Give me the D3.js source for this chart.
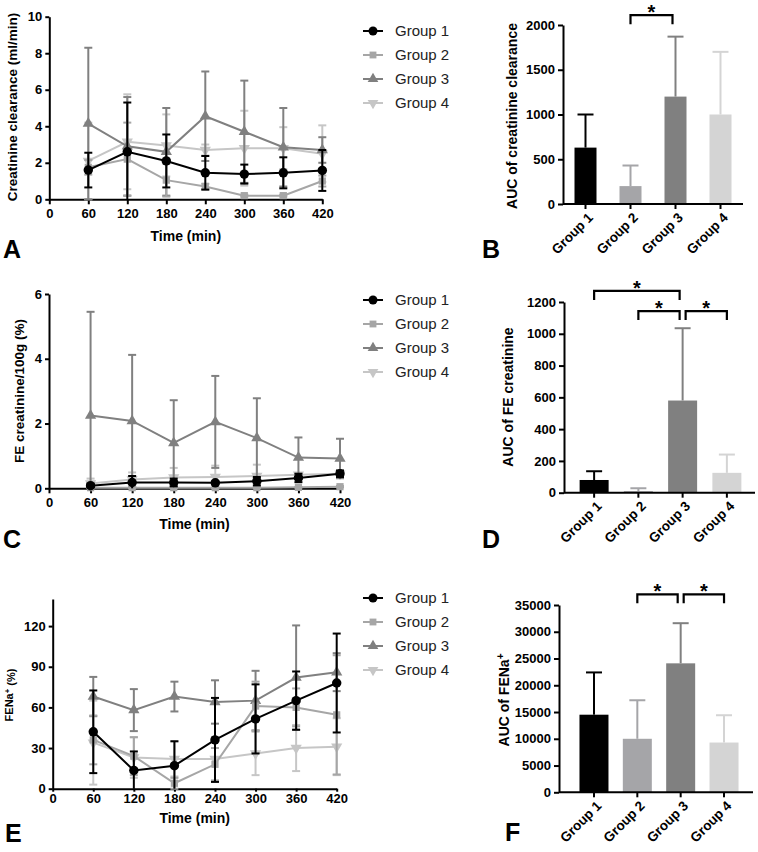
<!DOCTYPE html>
<html><head><meta charset="utf-8">
<script src="https://cdn.jsdelivr.net/npm/d3@7"></script>
<style>body{margin:0;background:#fff}text{font-family:"Liberation Sans",Arial,sans-serif}</style>
</head><body><svg id="c" width="758" height="852"></svg>
<script>
// ---------- DATA ----------
const times = [60,120,180,240,300,360,420];
const timeTicks = [0,60,120,180,240,300,360,420];
const groups = ["Group 1","Group 2","Group 3","Group 4"];

// Panel A: creatinine clearance (ml/min), mean and SD
const ccG1 = [1.6,2.6,2.1,1.45,1.38,1.45,1.58];
const ccG1sd = [0.95,2.7,1.45,0.92,0.52,0.85,1.12];
const ccG2 = [1.75,2.2,1.05,0.7,0.2,0.2,1.0];
const ccG2sd = [0.4,2.0,0.9,0.15,0.05,0.05,0.3];
const ccG3 = [4.15,2.9,2.6,4.55,3.7,2.85,2.7];
const ccG3sd = [4.15,2.7,2.4,2.45,2.8,2.15,0.7];
const ccG4 = [2.1,3.15,2.95,2.7,2.8,2.8,2.5];
const ccG4sd = [2.1,2.6,1.7,0.3,2.05,1.15,1.55];
const ccTicks = [0,2,4,6,8,10];

// Panel B: AUC of creatinine clearance
const aucCC = [630,200,1200,1000];
const aucCCsd = [370,230,670,700];
const aucCCTicks = [0,500,1000,1500,2000];
const sigB = [[1,2,2110]];

// Panel C: FE creatinine/100g (%)
const feG1 = [0.08,0.18,0.18,0.17,0.22,0.32,0.45];
const feG1sd = [0.05,0.2,0.12,0.05,0.13,0.13,0.1];
const feG2 = [0.02,0.02,0.02,0.02,0.02,0.03,0.05];
const feG2sd = [0.01,0.01,0.01,0.01,0.01,0.01,0.02];
const feG3 = [2.25,2.08,1.4,2.05,1.55,0.95,0.92];
const feG3sd = [3.2,2.04,1.32,1.42,1.23,0.62,0.61];
const feG4 = [0.15,0.27,0.33,0.35,0.38,0.42,0.45];
const feG4sd = [0.15,0.22,0.3,0.35,0.35,0.05,0.1];
const feTicks = [0,2,4,6];

// Panel D: AUC of FE creatinine
const aucFE = [80,10,580,125];
const aucFEsd = [55,18,455,115];
const aucFETicks = [0,200,400,600,800,1000,1200];
const sigD = [[0,2,1270],[1,2,1143],[2,3,1143]];

// Panel E: FENa+ (%)
const naG1 = [42,13.5,17,36,51.5,65,78];
const naG1sd = [30.5,14,18,31,25.5,21.5,36.5];
const naG2 = [36,24,4,18,61,60,54.5];
const naG2sd = [18,14,4,12,18,14,44];
const naG3 = [68,58,68,64,65,82,86];
const naG3sd = [14.5,15.5,11,16,22,38.5,14];
const naG4 = [34,23,22,22,26,30,31];
const naG4sd = [31,15,13,16,16,17,21];
const naTicks = [0,30,60,90,120];

// Panel F: AUC of FENa+
const aucNa = [14500,10000,24100,9300];
const aucNasd = [7900,7200,7500,5100];
const aucNaTicks = [0,5000,10000,15000,20000,25000,30000,35000];
const sigF = [[1,2,37000],[2,3,37000]];

// ---------- STYLE ----------
const lineColors = ["#000000","#a6a6a6","#808080","#c6c6c6"];
const barColors = ["#000000","#a5a5a8","#808080","#d4d4d4"];
const symbols = [d3.symbolCircle,d3.symbolSquare,d3.symbolTriangle,d3.symbolTriangle];
const symRot = [0,0,0,180];
const symSize = [70,52,55,55];
const fmt = d3.format("d");

const svg = d3.select("#c");
svg.append("rect").attr("width",758).attr("height",852).attr("fill","#fff");

function styleAxis(g, fs){
  g.selectAll("path.domain").attr("stroke","#000").attr("stroke-width",2);
  g.selectAll(".tick line").attr("stroke","#000").attr("stroke-width",2);
  g.selectAll(".tick text").attr("font-family","Liberation Sans, Arial, sans-serif")
    .attr("font-weight","bold").attr("font-size",fs).attr("fill","#000");
}

function linePanel(cfg){
  const x = d3.scaleLinear().domain([0,420]).range([cfg.x0,cfg.x1]);
  const y = d3.scaleLinear().domain(cfg.ydom).range([cfg.yb,cfg.yt]);
  const g = svg.append("g");
  const ya = g.append("g").attr("transform",`translate(${cfg.x0},0)`)
    .call(d3.axisLeft(y).tickValues(cfg.yticks).tickFormat(fmt).tickSize(4).tickPadding(3).tickSizeOuter(0));
  styleAxis(ya,13);
  const xa = g.append("g").attr("transform",`translate(0,${cfg.yb})`)
    .call(d3.axisBottom(x).tickValues(timeTicks).tickFormat(fmt).tickSize(cfg.xtick).tickPadding(cfg.xpad).tickSizeOuter(0));
  styleAxis(xa,13);
  g.append("text").attr("x",(cfg.x0+cfg.x1)/2).attr("y",cfg.yb+cfg.titleOff)
    .attr("text-anchor","middle").attr("font-weight","bold").attr("font-size",14).text("Time (min)");
  const yt = g.append("text").attr("transform",`translate(${cfg.ytx},${cfg.yty}) rotate(-90)`)
    .attr("text-anchor","middle").attr("font-weight","bold").attr("font-size",cfg.ytfs);
  if(cfg.ytitle2){
    yt.append("tspan").text(cfg.ytitle);
    yt.append("tspan").attr("dy","-0.45em").attr("font-size",cfg.ytfs*0.7).text("+");
    yt.append("tspan").attr("dy","0.45em").text(cfg.ytitle2);
  } else yt.text(cfg.ytitle);
  const [ylo,yhi] = cfg.ydom;
  for(let s=3;s>=0;s--){
    const m = cfg.means[s], sd = cfg.sds[s], col = lineColors[s];
    const sg = g.append("g");
    times.forEach((t,i)=>{
      const lo = m[i]-sd[i], hi = m[i]+sd[i];
      const px = x(t);
      sg.append("line").attr("x1",px).attr("x2",px)
        .attr("y1",y(Math.max(lo,ylo))).attr("y2",y(Math.min(hi,yhi)))
        .attr("stroke",col).attr("stroke-width",2);
      [lo,hi].forEach(v=>{
        if(v>=ylo && v<=yhi) sg.append("line").attr("x1",px-4).attr("x2",px+4)
          .attr("y1",y(v)).attr("y2",y(v)).attr("stroke",col).attr("stroke-width",2);
      });
    });
    sg.append("path").datum(m).attr("fill","none").attr("stroke",col).attr("stroke-width",2)
      .attr("d",d3.line().x((d,i)=>x(times[i])).y(d=>y(d)));
    sg.selectAll("path.sym").data(m).join("path").attr("class","sym")
      .attr("transform",(d,i)=>`translate(${x(times[i])},${y(d)}) rotate(${symRot[s]})`)
      .attr("d",d3.symbol(symbols[s],symSize[s])).attr("fill",col);
  }
  cfg.legY.forEach((ly,i)=>{
    const lg = svg.append("g");
    lg.append("line").attr("x1",363).attr("x2",383).attr("y1",ly).attr("y2",ly)
      .attr("stroke",lineColors[i]).attr("stroke-width",2);
    lg.append("path").attr("transform",`translate(373,${ly}) rotate(${symRot[i]})`)
      .attr("d",d3.symbol(symbols[i],symSize[i]*0.9)).attr("fill",lineColors[i]);
    lg.append("text").attr("x",395).attr("y",ly+5).attr("font-size",15).attr("fill","#222").text(groups[i]);
  });
  svg.append("text").attr("x",cfg.lx).attr("y",cfg.ly).attr("font-size",25).attr("font-weight","bold").text(cfg.letter);
}

function barPanel(cfg){
  const x = d3.scaleBand().domain(groups).range(cfg.brange).paddingInner(0).paddingOuter(0);
  const y = d3.scaleLinear().domain(cfg.ydom).range([cfg.yb,cfg.yt]);
  const g = svg.append("g");
  const bw = cfg.bw;
  const cx = i => x(groups[i]) + x.bandwidth()/2;
  cfg.vals.forEach((v,i)=>{
    const top = v + cfg.sds[i];
    g.append("line").attr("x1",cx(i)).attr("x2",cx(i)).attr("y1",y(v)).attr("y2",y(top))
      .attr("stroke",barColors[i]).attr("stroke-width",2);
    g.append("line").attr("x1",cx(i)-8).attr("x2",cx(i)+8).attr("y1",y(top)).attr("y2",y(top))
      .attr("stroke",barColors[i]).attr("stroke-width",2);
    g.append("rect").attr("x",cx(i)-bw/2).attr("width",bw).attr("y",y(v)).attr("height",y(0)-y(v))
      .attr("fill",barColors[i]);
  });
  const ya = g.append("g").attr("transform",`translate(${cfg.ax0},0)`)
    .call(d3.axisLeft(y).tickValues(cfg.yticks).tickFormat(fmt).tickSize(5).tickPadding(3).tickSizeOuter(0));
  styleAxis(ya,13);
  g.append("line").attr("x1",cfg.ax0).attr("x2",cfg.ax1).attr("y1",cfg.yb).attr("y2",cfg.yb)
    .attr("stroke","#000").attr("stroke-width",2);
  groups.forEach((gr,i)=>{
    g.append("line").attr("x1",cx(i)).attr("x2",cx(i)).attr("y1",cfg.yb).attr("y2",cfg.yb+5)
      .attr("stroke","#000").attr("stroke-width",2);
    g.append("text").attr("transform",`translate(${cx(i)+5},${cfg.yb+11}) rotate(-45)`)
      .attr("text-anchor","end").attr("dy","0.35em").attr("font-weight","bold").attr("font-size",13.5).text(gr);
  });
  const yt = g.append("text").attr("transform",`translate(${cfg.ytx},${cfg.yty}) rotate(-90)`)
    .attr("text-anchor","middle").attr("font-weight","bold").attr("font-size",14);
  if(cfg.sup){
    yt.append("tspan").text(cfg.ytitle);
    yt.append("tspan").attr("dy","-0.5em").attr("font-size",10).text("+");
  } else yt.text(cfg.ytitle);
  cfg.sig.forEach(([a,b,lev])=>{
    const xa = cx(a) + (a===2?3:0), xb = cx(b) - (b===2?3:0);
    const yy = y(lev);
    g.append("path").attr("d",`M${xa},${yy+9}V${yy}H${xb}V${yy+9}`)
      .attr("fill","none").attr("stroke","#000").attr("stroke-width",2.2);
    g.append("text").attr("x",(xa+xb)/2).attr("y",yy+4).attr("text-anchor","middle")
      .attr("font-weight","bold").attr("font-size",20).text("*");
  });
  svg.append("text").attr("x",cfg.lx).attr("y",cfg.ly).attr("font-size",25).attr("font-weight","bold").text(cfg.letter);
}

linePanel({x0:49.3,x1:322.3,yb:199.3,yt:16.7,ydom:[0,10],yticks:ccTicks,xtick:5,xpad:4,titleOff:42,
  ytx:17,yty:107,ytitle:"Creatinine clearance (ml/min)",ytfs:13.5,
  means:[ccG1,ccG2,ccG3,ccG4],sds:[ccG1sd,ccG2sd,ccG3sd,ccG4sd],
  legY:[31,55,79,103],letter:"A",lx:3,ly:258});
barPanel({brange:[563,743],ax0:563,ax1:743,yb:204,yt:25,ydom:[0,2000],yticks:aucCCTicks,bw:22,
  vals:aucCC,sds:aucCCsd,ytx:517,yty:116,ytitle:"AUC of creatinine clearance",sig:sigB,letter:"B",lx:482,ly:258});

linePanel({x0:49,x1:340,yb:488.3,yt:294,ydom:[0,6],yticks:feTicks,xtick:5,xpad:4,titleOff:41,
  ytx:24,yty:391,ytitle:"FE creatinine/100g (%)",ytfs:13.5,
  means:[feG1,feG2,feG3,feG4],sds:[feG1sd,feG2sd,feG3sd,feG4sd],
  legY:[300,324,348,372],letter:"C",lx:3,ly:548});
barPanel({brange:[572,749],ax0:564,ax1:755,yb:492.7,yt:302,ydom:[0,1200],yticks:aucFETicks,bw:29,
  vals:aucFE,sds:aucFEsd,ytx:513,yty:397,ytitle:"AUC of FE creatinine",sig:sigD,letter:"D",lx:482,ly:548});

linePanel({x0:52.7,x1:336.7,yb:788.7,yt:599,ydom:[0,140],yticks:naTicks,xtick:3,xpad:2,titleOff:34,
  ytx:13,yty:695,ytitle:"FENa",ytitle2:" (%)",ytfs:11,
  means:[naG1,naG2,naG3,naG4],sds:[naG1sd,naG2sd,naG3sd,naG4sd],
  legY:[598,622,646,670],letter:"E",lx:5,ly:842});
barPanel({brange:[572.3,745.7],ax0:559,ax1:753,yb:792.3,yt:605,ydom:[0,35000],yticks:aucNaTicks,bw:29,
  vals:aucNa,sds:aucNasd,ytx:509,yty:700,ytitle:"AUC of FENa",sup:true,sig:sigF,letter:"F",lx:505,ly:841});
</script></body></html>
